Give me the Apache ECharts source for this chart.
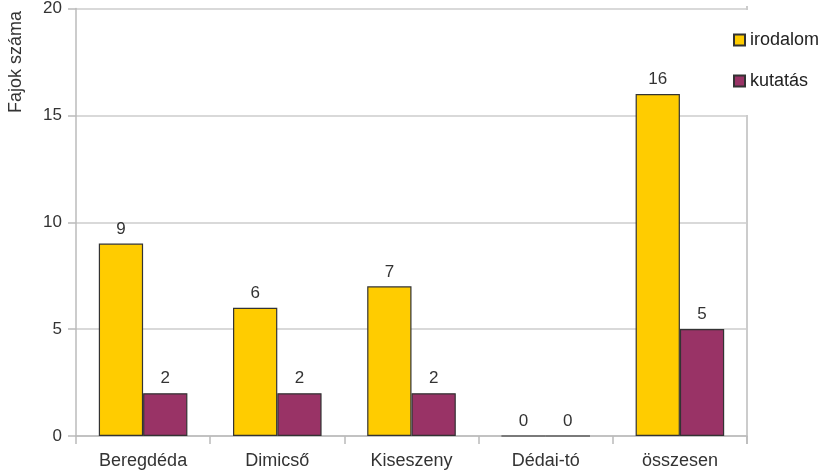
<!DOCTYPE html>
<html>
<head>
<meta charset="utf-8">
<script src="https://cdn.jsdelivr.net/npm/echarts@6/dist/echarts.min.js"></script>
<style>
    html, body {margin: 0; padding: 0; background: #fff;}
    #chart {width: 822px; height: 474px;}
</style>
</head>
<body>
<div id="chart"></div>
<script>
const categories = ['Beregdéda', 'Dimicső', 'Kiseszeny', 'Dédai-tó', 'összesen']
const irodalom = [9, 6, 7, 0, 16]
const kutatas = [2, 2, 2, 0, 5]
const seriesNames = ['irodalom', 'kutatás']
const yTicks = [0, 5, 10, 15, 20]

const chart = echarts.init(document.getElementById('chart'))

const barLabel = {
    show: true,
    position: 'top',
    distance: 6,
    color: '#333',
    fontSize: 17,
    fontFamily: 'Liberation Sans'
}

const option = {
    animation: false,
    textStyle: {fontFamily: 'Liberation Sans'},
    grid: {left: 76, right: 75, top: 6, bottom: 38, containLabel: false},
    legend: {
        orient: 'vertical',
        left: 722,
        top: 10,
        itemWidth: 11,
        itemHeight: 11,
        itemGap: 23,
        itemTextGap: 4,
        padding: [21, 20, 25, 11],
        backgroundColor: '#fff',
        textStyle: {color: '#222', fontSize: 18, fontFamily: 'Liberation Sans'},
        data: seriesNames.map(n => ({name: n, icon: 'rect'}))
    },
    xAxis: {
        type: 'category',
        data: categories,
        axisLine: {lineStyle: {color: '#bbb', width: 1.5}},
        axisTick: {show: true, length: 8, lineStyle: {color: '#bbb', width: 1.5}},
        axisLabel: {color: '#333', fontSize: 18, margin: 16}
    },
    yAxis: {
        type: 'value',
        min: yTicks[0],
        max: yTicks[yTicks.length - 1],
        interval: 5,
        axisLine: {show: true, lineStyle: {color: '#bbb', width: 1.5}},
        axisTick: {show: true, length: 8, lineStyle: {color: '#bbb', width: 1.5}},
        axisLabel: {color: '#333', fontSize: 17, margin: 14},
        splitLine: {show: true, lineStyle: {color: '#ccc', width: 1.5}}
    },
    graphic: [{
        type: 'text',
        x: 16,
        y: 62,
        rotation: Math.PI / 2,
        style: {
            text: 'Fajok száma',
            fill: '#333',
            fontSize: 18,
            fontFamily: 'Liberation Sans',
            align: 'center',
            verticalAlign: 'middle'
        }
    }, {
        type: 'line',
        shape: {x1: 747, y1: 6, x2: 747, y2: 444},
        style: {stroke: '#bbb', lineWidth: 1.5},
        z: 0
    }],
    series: [
        {
            name: seriesNames[0],
            type: 'bar',
            data: irodalom,
            barGap: '0%',
            barCategoryGap: '34%',
            itemStyle: {color: '#FFCC00', borderColor: '#333', borderWidth: 1.2},
            label: barLabel
        },
        {
            name: seriesNames[1],
            type: 'bar',
            data: kutatas,
            itemStyle: {color: '#993366', borderColor: '#333', borderWidth: 1.2},
            label: barLabel
        }
    ]
}

chart.setOption(option)
</script>
</body>
</html>
